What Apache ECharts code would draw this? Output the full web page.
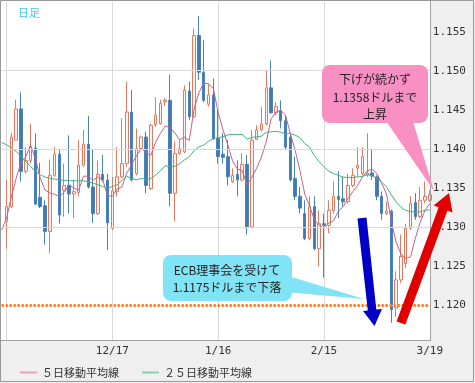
<!DOCTYPE html>
<html><head><meta charset="utf-8">
<script src="https://cdn.jsdelivr.net/npm/echarts/dist/echarts.min.js"></script>
<style>html,body{margin:0;padding:0;background:#fff}#c{width:475px;height:383px}</style>
</head><body><div id="c"></div>
<script>
const dates = ['11/14','11/15','11/16','11/19','11/20','11/21','11/22','11/23','11/26','11/27','11/28','11/29','11/30',
'12/3','12/4','12/5','12/6','12/7','12/10','12/11','12/12','12/13','12/14','12/17','12/18','12/19','12/20','12/21','12/24','12/25','12/26','12/27','12/28','12/31',
'1/1','1/2','1/3','1/4','1/7','1/8','1/9','1/10','1/11','1/14','1/15','1/16','1/17','1/18','1/21','1/22','1/23','1/24','1/25','1/28','1/29','1/30','1/31','2/1',
'2/4','2/5','2/6','2/7','2/8','2/11','2/12','2/13','2/14','2/15','2/18','2/19','2/20','2/21','2/22','2/25','2/26','2/27','2/28','3/1',
'3/4','3/5','3/6','3/7','3/8','3/11','3/12','3/13','3/14','3/15','3/18','3/19'];
const openP = ['-',1.1307,1.1326,1.1411,1.1451,1.1371,1.1385,1.1401,1.1338,1.1327,1.1294,1.1366,1.1393,1.1347,1.1353,1.1342,1.1344,1.1379,1.1406,1.1351,1.1317,1.1367,1.1360,1.1298,1.1345,1.1364,1.1381,1.1447,1.1368,1.1400,1.1415,1.1349,1.1431,1.1432,1.1460,1.1462,1.1343,1.1394,1.1396,1.1474,1.1441,1.1545,1.1498,1.1457,1.1469,1.1413,1.1393,1.1390,1.1358,1.1367,1.1360,1.1380,1.1300,1.1412,1.1424,1.1432,1.1478,1.1446,1.1449,1.1436,1.1415,1.1362,1.1339,1.1317,1.1285,1.1326,1.1272,1.1304,1.1302,1.1321,1.1339,1.1336,1.1332,1.1353,1.1375,1.1368,1.1366,1.1369,1.1364,1.1339,1.1317,1.1320,1.1196,1.1232,1.1253,1.1298,1.1331,1.1313,1.1334,1.1334];
const closeP = ['-',1.1326,1.1415,1.1451,1.1371,1.1385,1.1402,1.1329,1.1326,1.1294,1.1366,1.1393,1.1315,1.1353,1.1342,1.1345,1.1379,1.1406,1.1351,1.1317,1.1367,1.1360,1.1305,1.1346,1.1364,1.1381,1.1447,1.1360,1.1400,1.1415,1.1353,1.1430,1.1443,1.1458,1.1462,1.1343,1.1394,1.1400,1.1475,1.1441,1.1545,1.1498,1.1462,1.1469,1.1413,1.1390,1.1389,1.1364,1.1366,1.1360,1.1380,1.1300,1.1411,1.1424,1.1432,1.1478,1.1446,1.1454,1.1436,1.1402,1.1360,1.1339,1.1324,1.1285,1.1326,1.1272,1.1304,1.1302,1.1321,1.1339,1.1335,1.1332,1.1353,1.1366,1.1379,1.1390,1.1369,1.1365,1.1339,1.1317,1.1320,1.1194,1.1232,1.1262,1.1298,1.1330,1.1313,1.1334,1.1339,1.1341];
const lowP = ['-',1.1272,1.1324,1.1411,1.1358,1.1368,1.1381,1.1328,1.1324,1.1277,1.1266,1.1364,1.1304,1.1313,1.1317,1.1311,1.1339,1.1377,1.1349,1.1305,1.1315,1.1358,1.1270,1.1296,1.1339,1.1362,1.1377,1.1358,1.1366,1.1398,1.1343,1.1347,1.1428,1.1431,1.1455,1.1326,1.1307,1.1392,1.1394,1.1437,1.1439,1.1488,1.1460,1.1454,1.1411,1.1381,1.1381,1.1353,1.1356,1.1339,1.1358,1.1290,1.1298,1.1411,1.1422,1.1430,1.1445,1.1443,1.1426,1.1398,1.1358,1.1334,1.1317,1.1283,1.1283,1.1270,1.1249,1.1235,1.1292,1.1317,1.1311,1.1326,1.1330,1.1351,1.1364,1.1366,1.1364,1.1360,1.1334,1.1309,1.1315,1.1177,1.1185,1.1228,1.1247,1.1296,1.1309,1.1311,1.1330,1.1332];
const highP = ['-',1.1360,1.1420,1.1463,1.1472,1.1402,1.1432,1.1420,1.1382,1.1334,1.1386,1.1402,1.1400,1.1381,1.1417,1.1360,1.1411,1.1424,1.1442,1.1399,1.1385,1.1392,1.1368,1.1364,1.1402,1.1439,1.1486,1.1475,1.1426,1.1417,1.1422,1.1432,1.1466,1.1463,1.1465,1.1495,1.1409,1.1411,1.1481,1.1486,1.1554,1.1570,1.1539,1.1483,1.1490,1.1449,1.1420,1.1411,1.1375,1.1385,1.1394,1.1392,1.1424,1.1430,1.1454,1.1501,1.1513,1.1460,1.1462,1.1443,1.1420,1.1390,1.1351,1.1334,1.1339,1.1339,1.1321,1.1317,1.1334,1.1358,1.1371,1.1364,1.1368,1.1375,1.1402,1.1402,1.1420,1.1400,1.1366,1.1345,1.1332,1.1322,1.1243,1.1290,1.1304,1.1339,1.1343,1.1351,1.1358,1.1347];
const ma5 = [1.1296,1.1311,1.1338,1.1362,1.1382,1.13896,1.14048,1.13876,1.13626,1.13472,1.13434,1.13416,1.13388,1.13442,1.13538,1.13496,1.13468,1.13650,1.13646,1.13596,1.13640,1.13602,1.13400,1.13390,1.13484,1.13512,1.13686,1.13796,1.13904,1.14006,1.13950,1.13916,1.14082,1.14198,1.14292,1.14272,1.14200,1.14114,1.14148,1.14106,1.14510,1.14718,1.14842,1.14830,1.14774,1.14464,1.14246,1.14050,1.13844,1.13738,1.13718,1.13540,1.13634,1.13750,1.13894,1.14090,1.14382,1.14468,1.14492,1.14432,1.14196,1.13982,1.13722,1.13420,1.13268,1.13092,1.13022,1.12978,1.13050,1.13076,1.13202,1.13258,1.13360,1.13450,1.13530,1.13640,1.13714,1.13738,1.13684,1.13560,1.13420,1.13070,1.12804,1.12650,1.12596,1.12616,1.12854,1.13058,1.13212,1.13298];
const ma25 = [1.14081,1.14051,1.14013,1.13965,1.13904,1.13837,1.13773,1.13709,1.13667,1.13637,1.13622,1.13612,1.13603,1.13594,1.13590,1.13590,1.13590,1.13590,1.13577,1.13560,1.13538,1.13517,1.13496,1.13517,1.13538,1.13596,1.13644,1.13622,1.13602,1.13619,1.13606,1.13618,1.13663,1.13716,1.13783,1.13774,1.13774,1.13808,1.13857,1.13897,1.13977,1.14024,1.14047,1.14094,1.14132,1.14142,1.14153,1.14177,1.14185,1.14183,1.14183,1.14124,1.14144,1.14154,1.14161,1.14211,1.14217,1.14222,1.14213,1.14189,1.14196,1.14174,1.14143,1.14067,1.14021,1.13912,1.13834,1.13770,1.13711,1.13682,1.13660,1.13637,1.13632,1.13632,1.13640,1.13644,1.13672,1.13653,1.13619,1.13573,1.13510,1.13409,1.13320,1.13251,1.13209,1.13197,1.13187,1.13191,1.13212,1.13218];
const yTicks = [1.120,1.125,1.130,1.135,1.140,1.145,1.150,1.155];
const supportLevel = 1.120;
const labelIdx = [23,45,67,89];

const chart = echarts.init(document.getElementById('c'), null, {renderer:'canvas'});
const candles = dates.map((d,i)=> openP[i]==='-' ? '-' : [openP[i], closeP[i], lowP[i], highP[i]]);
const mono = '"DejaVu Sans Mono", monospace';
const jp = '"Noto Sans CJK JP", sans-serif';
const option = {
  animation:false,
  backgroundColor:'#efefef',
  title:{text:'日足', left:13, top:2, textStyle:{fontSize:11, fontWeight:'normal', color:'#4cc3ea', fontFamily:jp}},
  legend:{
    left:15, top:362, itemWidth:17, itemHeight:2, itemGap:23, icon:'rect',
    textStyle:{fontSize:11, color:'#333', fontFamily:jp},
    data:[{name:'５日移動平均線', itemStyle:{color:'#e3a7b9'}},{name:'２５日移動平均線', itemStyle:{color:'#8ccfaa'}}]
  },
  grid:{left:1.7, right:45.2, top:2, bottom:43, outerBoundsMode:'none', containLabel:false},
  xAxis:{
    type:'category', data:dates, boundaryGap:false,
    axisLine:{show:false}, axisTick:{show:false},
    axisLabel:{fontSize:11, color:'#333', fontFamily:mono, margin:6,
      interval:(i)=> labelIdx.indexOf(i) >= 0},
    splitLine:{show:true, interval:(i)=> (i-1)%22===0, lineStyle:{color:'#d9d9d9', width:1}}
  },
  yAxis:{
    type:'value', position:'right', min:1.1155, max:1.1588, interval:0.0005, scale:true,
    axisLine:{show:false}, axisTick:{show:false}, splitLine:{show:false},
    axisLabel:{fontSize:11, color:'#333', fontFamily:mono, margin:3,
      formatter:(v)=>{ for (const t of yTicks){ if (Math.abs(v-t)<1e-7) return t.toFixed(3);} return ''; }}
  },
  series:[
    {name:'grid', type:'line', data:[], z:1, silent:true,
      markLine:{silent:true, symbol:['none','none'], label:{show:false}, animation:false,
        lineStyle:{color:'#d9d9d9', width:1, type:'solid'},
        data: yTicks.map(t=>({yAxis:t}))}},
    {name:'support', type:'line', data:[], z:1.5, silent:true,
      markLine:{silent:true, symbol:['none','none'], label:{show:false}, animation:false,
        lineStyle:{color:'#f07a26', width:3, type:[2,2], cap:'butt'},
        data:[{yAxis:supportLevel}]}},
    {name:'candle', type:'candlestick', data:candles, z:3, barWidth:3, clip:false,
      itemStyle:{color:'#fff3ef', color0:'#4079b4', borderColor:'#e07b61', borderColor0:'#4a82bb', borderWidth:1}},
    {name:'５日移動平均線', type:'line', data:ma5, z:4, showSymbol:false, symbol:'none', lineStyle:{color:'#c2618a', width:1}, itemStyle:{color:'#e3a7b9'}},
    {name:'２５日移動平均線', type:'line', data:ma25, z:4, showSymbol:false, symbol:'none', lineStyle:{color:'#45b07a', width:1}, itemStyle:{color:'#8ccfaa'}}
  ],
  graphic:[
    {type:'rect', z:-5, silent:true, shape:{x:1,y:1,width:430,height:339.5}, style:{fill:'#ffffff'}},
    {type:'line', z:50, silent:true, shape:{x1:1,y1:340.5,x2:431,y2:340.5}, style:{stroke:'#a3a3a3', lineWidth:1}},
    {type:'line', z:50, silent:true, shape:{x1:430.5,y1:1,x2:430.5,y2:340.5}, style:{stroke:'#a3a3a3', lineWidth:1}},
    {type:'rect', z:50, silent:true, shape:{x:0.5,y:0.5,width:473,height:381}, style:{fill:'transparent', stroke:'#999', lineWidth:1}},
    {type:'polygon', z:60, silent:true, shape:{points:[[285,275],[285,292],[364,299]]}, style:{fill:'#80e3f6'}},
    {type:'rect', z:61, silent:true, shape:{x:163,y:255,width:129,height:46,r:8}, style:{fill:'#80e3f6'}},
    {type:'text', z:62, silent:true, style:{text:'ECB理事会を受けて\n1.1175ドルまで下落', x:227, y:278.5, align:'center', verticalAlign:'middle', fontSize:12, fontFamily:jp, fill:'#222', lineHeight:17}},
    {type:'polygon', z:60, silent:true, shape:{points:[[384,118],[412,118],[434,191]]}, style:{fill:'#f890c4'}},
    {type:'rect', z:61, silent:true, shape:{x:322,y:65,width:106,height:58,r:8}, style:{fill:'#f890c4'}},
    {type:'text', z:62, silent:true, style:{text:'下げが続かず\n1.1358ドルまで\n上昇', x:375, y:97, align:'center', verticalAlign:'middle', fontSize:12, fontFamily:jp, fill:'#222', lineHeight:17.5}},
    {type:'polygon', z:63, silent:true, shape:{points:[[357.5,218.5],[366.5,217.5],[376.3,309.5],[382,309],[374.5,326],[363,311],[367.8,310.5]]}, style:{fill:'#0000c8'}},
    {type:'polygon', z:63, silent:true, shape:{points:[[396.6,321.4],[438.7,207.3],[433.7,205.4],[449,193],[452.5,212.4],[447.5,210.5],[405.4,324.6]]}, style:{fill:'#e00000'}}
  ]
};
chart.setOption(option);
</script>
</body></html>
